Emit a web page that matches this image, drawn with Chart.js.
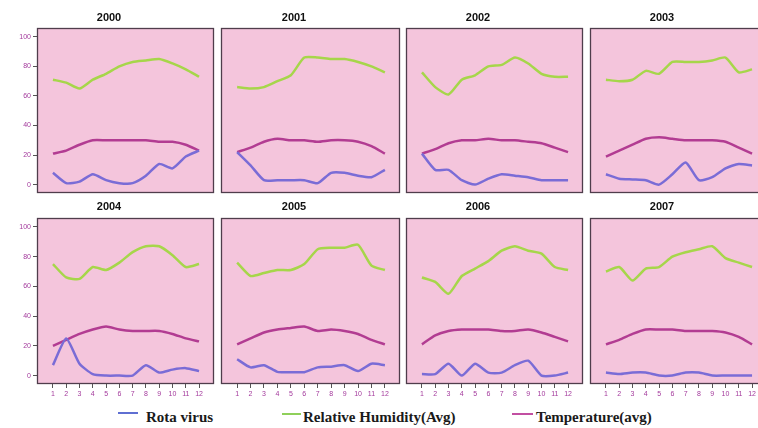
<!DOCTYPE html>
<html>
<head>
<meta charset="utf-8">
<script src="https://cdn.jsdelivr.net/npm/chart.js@4.4.1/dist/chart.umd.min.js"></script>
<style>
  body { margin: 0; background: #fff; width: 758px; height: 428px; position: relative; overflow: hidden; }
  canvas { position: absolute; }
  .key { position: absolute; height: 2px; }
  .lbl { position: absolute; font: bold 15px "Liberation Serif", "Times New Roman", serif; color: #1a1a1a; line-height: 17px; white-space: nowrap; }
</style>
</head>
<body>
<div class="key" style="left:118px;top:412px;width:20px;background:#5f6fd2"></div>
<div class="lbl" style="left:146px;top:409px">Rota virus</div>
<div class="key" style="left:282px;top:413px;width:19px;background:#8fd05a"></div>
<div class="lbl" style="left:303px;top:409px">Relative Humidity(Avg)</div>
<div class="key" style="left:512px;top:413px;width:21px;background:#c24fa2"></div>
<div class="lbl" style="left:536px;top:409px">Temperature(avg)</div>
<script>
const years = ["2000", "2001", "2002", "2003", "2004", "2005", "2006", "2007"];
const months = [1, 2, 3, 4, 5, 6, 7, 8, 9, 10, 11, 12];
const yTicks = [0, 20, 40, 60, 80, 100];

// one list of 12 monthly values per year
const rotaVirus = [
  [8, 1, 2, 7, 3, 1, 1, 6, 14, 11, 19, 23],
  [22, 13, 3, 3, 3, 3, 1, 8, 8, 6, 5, 10],
  [21, 10, 10, 3, 0, 4, 7, 6, 5, 3, 3, 3],
  [7, 4, 3.5, 3, 0, 7, 15, 3, 5, 11, 14, 13],
  [7, 25, 8, 1, 0, 0, 0, 7, 2, 4, 5, 3],
  [11, 5.5, 7, 2.5, 2.3, 2.3, 5.5, 6, 7, 3, 8, 7],
  [1, 1, 8, 0, 8, 2, 2, 7, 10, 0, 0, 2],
  [2, 1, 2, 2, 0, 0, 2, 2, 0, 0, 0, 0]
];
const humidity = [
  [71, 69, 65, 71, 75, 80, 83, 84, 85, 82, 78, 73],
  [66, 65, 66, 70, 74, 86, 86, 85, 85, 83, 80, 76],
  [76, 66, 61, 71, 74, 80, 81, 86, 82, 75, 73, 73],
  [71, 70, 71, 77, 75, 83, 83, 83, 84, 86, 76, 78],
  [75, 66, 65, 73, 71, 76, 83, 87, 87, 81, 73, 75],
  [76, 67, 69, 71, 71, 75, 85, 86, 86, 88, 74, 71],
  [66, 63, 55, 67, 72, 77, 84, 87, 84, 82, 73, 71],
  [70, 73, 64, 72, 73, 80, 83, 85, 87, 79, 76, 73]
];
const temperature = [
  [21, 23, 27, 30, 30, 30, 30, 30, 29, 29, 27, 23],
  [22, 25, 29, 31, 30, 30, 29, 30, 30, 29, 26, 21],
  [21, 24, 28, 30, 30, 31, 30, 30, 29, 28, 25, 22],
  [19, 23, 27, 31, 32, 31, 30, 30, 30, 29, 25, 21],
  [20, 24, 28, 31, 33, 31, 30, 30, 30, 28, 25, 23],
  [21, 25, 29, 31, 32, 33, 30, 31, 30, 28, 24, 21],
  [21, 27, 30, 31, 31, 31, 30, 30, 31, 29, 26, 23],
  [21, 24, 28, 31, 31, 31, 30, 30, 30, 29, 26, 21]
];

const frameLeft = [37, 221, 406, 590];
const frameWidth = [176, 178, 176, 176];
const tickColor = "#a3399c";

// pink plot area + dark frame
const panelBox = {
  id: "panelBox",
  beforeDraw(chart) {
    const a = chart.chartArea, ctx = chart.ctx;
    ctx.save();
    ctx.fillStyle = "#f4c5dc";
    ctx.fillRect(a.left, a.top, a.right - a.left, a.bottom - a.top);
    ctx.restore();
  },
  afterDraw(chart) {
    const a = chart.chartArea, ctx = chart.ctx;
    ctx.save();
    ctx.strokeStyle = "#4f3d4c";
    ctx.lineWidth = 1.3;
    ctx.strokeRect(Math.round(a.left) + 0.5, Math.round(a.top) + 0.5,
      Math.round(a.right - a.left), Math.round(a.bottom - a.top));
    ctx.restore();
  }
};

years.forEach((yr, i) => {
  const col = i % 4, row = Math.floor(i / 4);
  const first = col === 0, bottom = row === 1;
  const cv = document.createElement("canvas");
  const w = 32 + frameWidth[col] + 2;
  const h = bottom ? 213 : 200;
  cv.width = w; cv.height = h;
  cv.style.left = (frameLeft[col] - 32) + "px";
  cv.style.top = (bottom ? 190 : 0) + "px";
  document.body.appendChild(cv);

  new Chart(cv, {
    type: "line",
    data: {
      labels: months,
      datasets: [
        { label: "Rota virus", data: rotaVirus[i], borderColor: "#7a6cd6" },
        { label: "Relative Humidity(Avg)", data: humidity[i], borderColor: "#a6d64a" },
        { label: "Temperature(avg)", data: temperature[i], borderColor: "#b23c92" }
      ]
    },
    options: {
      responsive: false,
      animation: false,
      devicePixelRatio: 1,
      layout: { padding: { left: 0, right: 2, top: 0, bottom: 0 } },
      elements: {
        point: { radius: 0 },
        line: { borderWidth: 2.5, tension: 0.2 }
      },
      plugins: {
        legend: { display: false },
        tooltip: { enabled: false },
        title: {
          display: true,
          text: yr,
          color: "#111",
          font: { family: "Arial, 'Liberation Sans', sans-serif", size: 11, weight: "bold", lineHeight: 1 },
          padding: bottom ? { top: 11, bottom: 6 } : { top: 12, bottom: 5 }
        }
      },
      scales: {
        x: {
          type: "linear",
          min: -0.2,
          max: 13.05,
          afterBuildTicks: (s) => { s.ticks = months.map(v => ({ value: v })); },
          afterFit: (s) => { s.height = bottom ? 20 : 8; },
          border: { display: false },
          grid: { display: bottom, drawOnChartArea: false, tickLength: 5, color: "#555" },
          ticks: {
            display: bottom,
            autoSkip: false,
            maxRotation: 0,
            padding: 2,
            color: tickColor,
            font: { family: "Arial, sans-serif", size: 7 }
          }
        },
        y: {
          min: -5,
          max: 106,
          afterBuildTicks: (s) => { s.ticks = yTicks.map(v => ({ value: v })); },
          afterFit: (s) => { s.width = 32; },
          border: { display: false },
          grid: { display: first, drawOnChartArea: false, tickLength: 4, color: "#555" },
          ticks: {
            display: first,
            padding: 2,
            color: tickColor,
            font: { family: "Arial, sans-serif", size: 7 }
          }
        }
      }
    },
    plugins: [panelBox]
  });
});
</script>
</body>
</html>
